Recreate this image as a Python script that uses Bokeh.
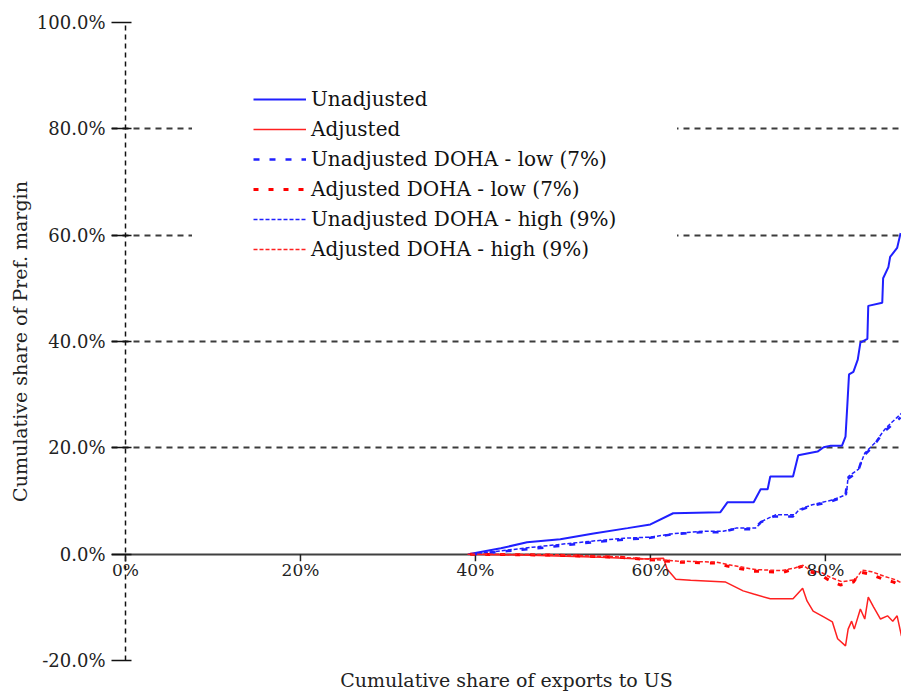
import numpy as np
from bokeh.plotting import figure
from bokeh.models import (Range1d, FixedTicker, PrintfTickFormatter, Grid, Legend, LegendItem, Label)
from bokeh.embed import file_html
from bokeh.resources import INLINE

# ---------------- data (percent units) ----------------
unadj_x = [39.2, 42.9, 45.9, 49.7, 53.5, 57.4, 60.0, 62.6, 68.0, 68.8, 71.8, 72.6, 73.4, 73.7,
           76.3, 76.9, 79.1, 79.8, 80.6, 81.9, 82.3, 82.5, 82.7, 83.2, 83.7, 84.0, 84.8, 84.9,
           86.5, 86.6, 87.2, 87.4, 88.2, 88.6]
unadj_y = [0.0, 1.1, 2.25, 2.8, 3.9, 4.9, 5.6, 7.7, 7.9, 9.75, 9.75, 12.2, 12.2, 14.6,
           14.6, 18.6, 19.3, 20.1, 20.4, 20.4, 22.1, 27.8, 33.8, 34.3, 36.6, 39.8, 40.5, 46.7,
           47.3, 51.9, 54.0, 55.9, 57.6, 60.4]

adj_x = [39.1, 46.3, 54.3, 58.9, 61.5, 61.9, 62.9, 64.6, 68.6, 70.6, 71.8, 73.7, 76.3, 77.4,
         77.9, 78.6, 79.8, 80.8, 81.4, 82.3, 82.6, 83.0, 83.3, 84.0, 84.5, 84.9, 85.5, 86.3,
         87.1, 87.7, 88.2, 88.7]
adj_y = [0.0, -0.2, -0.6, -0.9, -0.75, -2.8, -4.7, -4.9, -5.25, -6.9, -7.5, -8.4, -8.4, -6.4,
         -8.8, -10.7, -11.8, -12.75, -15.9, -17.25, -14.1, -12.6, -14.1, -10.3, -12.2, -8.1, -9.9, -12.2,
         -11.6, -12.6, -11.6, -15.4]

unadj_low_x = [39.8, 47.1, 53.5, 57.4, 59.7, 62.6, 65.7, 68.0, 69.5, 71.8, 72.6, 74.1, 76.3, 76.8,
               78.3, 80.6, 82.3, 82.5, 83.7, 84.3, 85.5, 86.6, 87.4, 88.6]
unadj_low_y = [0.0, 1.1, 2.25, 2.8, 3.0, 3.75, 4.1, 4.1, 4.7, 4.7, 6.0, 7.1, 7.1, 8.1,
               9.0, 9.9, 10.9, 14.1, 15.4, 18.4, 20.3, 22.9, 24.0, 25.7]

unadj_high_x = [39.6, 46.5, 53.0, 57.0, 60.0, 62.8, 66.0, 68.3, 69.8, 72.0, 72.9, 74.3, 76.5, 77.0,
                78.5, 80.8, 82.4, 82.6, 83.8, 84.5, 85.7, 86.8, 87.6, 88.7]
unadj_high_y = [0.0, 1.3, 2.4, 3.0, 3.2, 3.9, 4.3, 4.3, 4.9, 4.9, 6.3, 7.4, 7.4, 8.4,
                9.3, 10.2, 11.2, 14.6, 16.0, 19.0, 21.0, 23.5, 24.8, 26.5]

adj_low_x = [39.4, 49.7, 56.6, 63.4, 67.7, 68.8, 71.8, 75.2, 76.3, 77.4, 77.9, 79.4, 80.2, 81.7,
             83.2, 84.0, 85.1, 86.6, 87.8, 88.7]
adj_low_y = [0.0, -0.2, -0.6, -1.5, -1.7, -2.25, -3.2, -3.4, -2.8, -2.25, -3.2, -3.75, -4.7, -5.8,
             -5.25, -3.4, -3.75, -4.7, -5.25, -6.0]

adj_high_x = [39.5, 49.0, 56.0, 63.0, 67.5, 69.0, 72.0, 75.0, 76.5, 77.5, 78.2, 79.6, 80.5, 81.9,
              83.4, 84.2, 85.3, 86.8, 88.0, 88.7]
adj_high_y = [0.0, -0.1, -0.5, -1.3, -1.5, -2.0, -2.9, -3.1, -2.6, -2.1, -3.0, -3.5, -4.3, -5.2,
              -4.8, -3.0, -3.3, -4.2, -4.8, -5.4]

series_names = ["Unadjusted", "Adjusted", "Unadjusted DOHA - low (7%)", "Adjusted DOHA - low (7%)",
                "Unadjusted DOHA - high (9%)", "Adjusted DOHA - high (9%)"]

y_ticks = [-20, 0, 20, 40, 60, 80, 100]
grid_dashed_ticks = [20, 40, 60, 80]
grid_solid_ticks = [0, 100]
grid_bottom_ticks = [-20]
x_axis_ticks = [0]
x_ticks = [0, 20, 40, 60, 80]
x_tick_labels = ["0%", "20%", "40%", "60%", "80%"]

FONT = "DejaVu Serif"

p = figure(width=901, height=693, output_backend="svg", toolbar_location=None,
           x_range=Range1d(-1.6, 88.7), y_range=Range1d(-20, 100),
           min_border_left=111, min_border_top=22, min_border_bottom=31, min_border_right=0)
p.outline_line_color = None
p.background_fill_color = "white"
p.xgrid.visible = False
p.ygrid.visible = False

# grids
p.add_layout(Grid(dimension=1, ticker=FixedTicker(ticks=grid_dashed_ticks),
                  grid_line_color="#3c3c3c", grid_line_width=2, grid_line_dash="6 5"))
p.add_layout(Grid(dimension=1, ticker=FixedTicker(ticks=grid_solid_ticks),
                  grid_line_color="#404040", grid_line_width=2))
p.add_layout(Grid(dimension=1, ticker=FixedTicker(ticks=grid_bottom_ticks),
                  grid_line_color="#222222", grid_line_width=3, grid_line_dash="3 2"))
# vertical dashed axis line at x = 0
p.add_layout(Grid(dimension=0, ticker=FixedTicker(ticks=x_axis_ticks),
                  grid_line_color="#111111", grid_line_width=1.5, grid_line_dash="5 4"))

# y axis
ya = p.yaxis[0]
ya.ticker = FixedTicker(ticks=y_ticks)
ya.formatter = PrintfTickFormatter(format="%.1f%%")
ya.axis_label = "Cumulative share of Pref. margin"
ya.axis_label_text_font = FONT
ya.axis_label_text_font_style = "normal"
ya.axis_label_text_font_size = "19px"
ya.axis_label_text_color = "#222222"
ya.axis_label_standoff = 3
ya.major_label_text_font = FONT
ya.major_label_text_font_size = "18px"
ya.major_label_text_color = "#222222"
ya.major_label_standoff = 6
ya.axis_line_color = None
ya.major_tick_out = 0
ya.major_tick_in = 20
ya.major_tick_line_width = 1.5
ya.major_tick_line_color = "#111111"
ya.minor_tick_line_color = None

# x axis (only title at bottom)
xa = p.xaxis[0]
xa.ticker = FixedTicker(ticks=[])
xa.axis_line_color = None
xa.major_tick_line_color = None
xa.minor_tick_line_color = None
xa.major_label_text_font_size = "0px"
xa.axis_label = "Cumulative share of exports to US"
xa.axis_label_text_font = FONT
xa.axis_label_text_font_style = "normal"
xa.axis_label_text_font_size = "19px"
xa.axis_label_text_color = "#222222"
xa.axis_label_standoff = 8

# x ticks along the zero line
p.ray(x=x_ticks, y=[0] * len(x_ticks), length=7, length_units="screen",
      angle=-np.pi / 2, line_color="#222222", line_width=1.5)
for xv, lab in zip(x_ticks, x_tick_labels):
    p.add_layout(Label(x=xv, y=0, text=lab, y_offset=-6,
                       text_align="center", text_baseline="top", text_font=FONT,
                       text_font_size="17px", text_color="#222222"))

# series
r1 = p.line(unadj_x, unadj_y, line_color="#2020ff", line_width=2)
r2 = p.line(adj_x, adj_y, line_color="#ff2020", line_width=1.5)
r3 = p.line(unadj_low_x, unadj_low_y, line_color="#2020ff", line_width=2.5, line_dash="6 10")
r4 = p.line(adj_low_x, adj_low_y, line_color="#ff0000", line_width=3, line_dash="5 10")
r5 = p.line(unadj_high_x, unadj_high_y, line_color="#2020ff", line_width=1.5, line_dash="4 2")
r6 = p.line(adj_high_x, adj_high_y, line_color="#ff2020", line_width=1.5, line_dash="4 2")

legend = Legend(items=[LegendItem(label=n, renderers=[r]) for n, r in
                       zip(series_names, [r1, r2, r3, r4, r5, r6])],
                location=(81, 338), orientation="vertical",
                background_fill_color="white", background_fill_alpha=1.0,
                border_line_color="white", border_line_alpha=1.0, padding=60, spacing=6,
                label_height=23, glyph_height=20, glyph_width=53, label_standoff=5,
                label_text_font=FONT, label_text_font_size="20px", label_text_color="#111111")
p.add_layout(legend, "center")

open("out.html", "w").write(file_html(p, INLINE))
